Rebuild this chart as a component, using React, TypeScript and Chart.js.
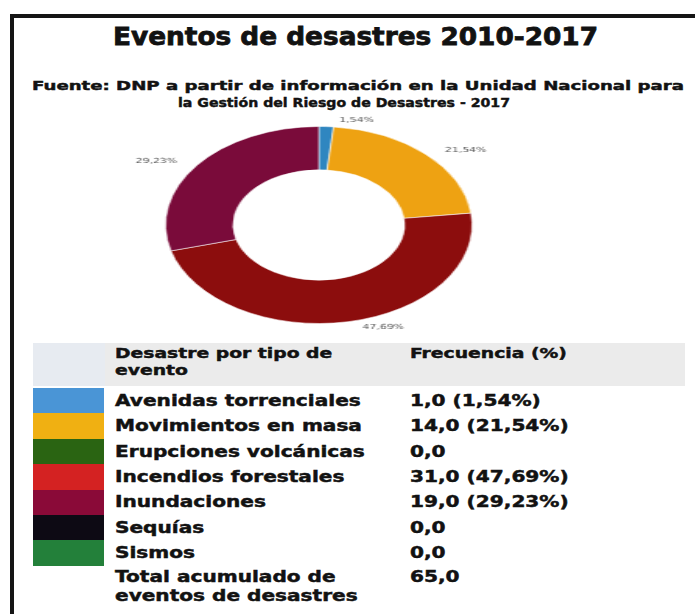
import React, { useEffect, useLayoutEffect, useRef } from "react";
import { Chart, registerables } from "chart.js";

Chart.register(...registerables);

const title = "Eventos de desastres 2010-2017";
const sourceLines = [
  "Fuente: DNP a partir de información en la Unidad Nacional para",
  "la Gestión del Riesgo de Desastres - 2017",
];
const headerCategoryLines = ["Desastre por tipo de", "evento"];
const headerValue = "Frecuencia (%)";
const categories = [
  "Avenidas torrenciales",
  "Movimientos en masa",
  "Erupciones volcánicas",
  "Incendios forestales",
  "Inundaciones",
  "Sequías",
  "Sismos",
];
const frequencies = [1, 14, 0, 31, 19, 0, 0];
const totalLines = ["Total acumulado de", "eventos de desastres"];

const sliceColors = ["#2f86c0", "#eea212", "#2a6414", "#8c0d0d", "#7a0b3a", "#0d0a14", "#23803a"];
const swatchColors = ["#4a95d6", "#f0b012", "#2a6412", "#d42222", "#8a0a38", "#0d0a14", "#23803a"];

const total = frequencies.reduce((a, b) => a + b, 0);
const fmt1 = (v: number) => v.toFixed(1).replace(".", ",");
const pct = (v: number) => ((v / total) * 100).toFixed(2).replace(".", ",") + "%";
const valueText = (v: number) => (v > 0 ? `${fmt1(v)} (${pct(v)})` : fmt1(v));

const FONT = '"DejaVu Sans", "Liberation Sans", sans-serif';
const TEXT_SCALE = 1.34;

function Fit({ text, left, top, width, size, lh, stroke }: { text: string; left: number; top: number; width: number; size: number; lh: number; stroke: number }) {
  const ref = useRef<HTMLSpanElement>(null);
  useLayoutEffect(() => {
    const el = ref.current;
    if (!el) return;
    el.style.transform = "none";
    const w = el.getBoundingClientRect().width;
    if (w > 0) el.style.transform = `scaleX(${width / w})`;
  }, [text, width]);
  return (
    <span
      ref={ref}
      style={{
        position: "absolute",
        left,
        top,
        fontSize: size,
        lineHeight: `${lh}px`,
        fontWeight: 700,
        whiteSpace: "nowrap",
        display: "inline-block",
        transformOrigin: "left top",
        WebkitTextStroke: `${stroke}px #121212`,
      }}
    >
      {text}
    </span>
  );
}

function T({ text, left, top, size, lh }: { text: string; left: number; top: number; size: number; lh: number }) {
  return (
    <span
      style={{
        position: "absolute",
        left,
        top,
        fontSize: size,
        lineHeight: `${lh}px`,
        fontWeight: 700,
        whiteSpace: "nowrap",
        display: "inline-block",
        transform: `scaleX(${TEXT_SCALE})`,
        transformOrigin: "left top",
        WebkitTextStroke: "0.45px #121212",
      }}
    >
      {text}
    </span>
  );
}

const pctLabelsPlugin = {
  id: "pctLabels",
  afterDatasetsDraw(chart: any) {
    const meta = chart.getDatasetMeta(0);
    const ctx = chart.ctx;
    ctx.save();
    ctx.font = `7px ${FONT}`;
    ctx.fillStyle = "#555";
    ctx.textBaseline = "middle";
    meta.data.forEach((arc: any, i: number) => {
      const v = frequencies[i];
      if (!v) return;
      const p = arc.getProps(["x", "y", "startAngle", "endAngle", "outerRadius"], true);
      const mid = (p.startAngle + p.endAngle) / 2;
      const r = p.outerRadius + 6;
      const right = Math.cos(mid) >= 0;
      const lx = p.x + Math.cos(mid) * r + (right ? 8 : -8);
      const ly = p.y + Math.sin(mid) * r;
      ctx.textAlign = right ? "left" : "right";
      ctx.fillText(pct(v), lx, ly);
    });
    ctx.restore();
  },
};

function Doughnut() {
  const ref = useRef<HTMLCanvasElement>(null);
  useEffect(() => {
    if (!ref.current) return;
    const chart = new Chart(ref.current, {
      type: "doughnut",
      data: {
        labels: categories,
        datasets: [
          {
            data: frequencies,
            backgroundColor: sliceColors,
            borderColor: "rgba(255,255,255,0.55)",
            borderWidth: (c: any) => (frequencies[c.dataIndex] > 0 ? 1 : 0),
          },
        ],
      },
      options: {
        animation: false,
        responsive: true,
        maintainAspectRatio: false,
        cutout: "56%",
        layout: { padding: { top: 21, bottom: 19, left: 41, right: 41 } },
        plugins: { legend: { display: false }, tooltip: { enabled: false } },
      } as any,
      plugins: [pctLabelsPlugin],
    });
    return () => chart.destroy();
  }, []);
  return (
    <div
      style={{
        position: "absolute",
        left: 101,
        top: 104,
        width: 280,
        height: 240,
        transform: "scaleX(1.556)",
        transformOrigin: "left top",
      }}
    >
      <canvas ref={ref} />
    </div>
  );
}

export default function App() {
  const rowTop = 388;
  const rowH = 25.4;
  return (
    <div
      style={{
        position: "fixed",
        inset: 0,
        overflow: "hidden",
        background: "#fff",
        fontFamily: FONT,
        color: "#121212",
      }}
    >
      <div
        style={{
          position: "absolute",
          left: 10,
          top: 14,
          width: 900,
          height: 900,
          borderTop: "4px solid #151515",
          borderLeft: "4px solid #151515",
        }}
      />
      <Fit text={title} left={113} top={23} width={485} size={25} lh={28} stroke={0.8} />
      <Fit text={sourceLines[0]} left={32} top={78} width={652} size={13} lh={16} stroke={0.45} />
      <Fit text={sourceLines[1]} left={178} top={95} width={332} size={13} lh={16} stroke={0.45} />

      {/* header band */}
      <div style={{ position: "absolute", left: 33, top: 343, width: 72, height: 43, background: "#e7ebf1" }} />
      <div style={{ position: "absolute", left: 105, top: 343, width: 580, height: 43, background: "#ebebeb" }} />
      <T text={headerCategoryLines[0]} left={115} top={345} size={14} lh={17} />
      <T text={headerCategoryLines[1]} left={115} top={362} size={14} lh={17} />
      <T text={headerValue} left={410} top={345} size={14} lh={17} />

      {categories.map((c, i) => (
        <React.Fragment key={c}>
          <div
            style={{
              position: "absolute",
              left: 33,
              top: rowTop + i * rowH,
              width: 71,
              height: rowH + 0.5,
              background: swatchColors[i],
            }}
          />
          <T text={c} left={115} top={rowTop + i * rowH + rowH / 2 - 9} size={15} lh={18} />
          <T text={valueText(frequencies[i])} left={410} top={rowTop + i * rowH + rowH / 2 - 9} size={15} lh={18} />
        </React.Fragment>
      ))}
      <T text={totalLines[0]} left={115} top={568} size={15} lh={18} />
      <T text={totalLines[1]} left={115} top={587} size={15} lh={18} />
      <T text={fmt1(total)} left={410} top={568} size={15} lh={18} />

      <Doughnut />
    </div>
  );
}
